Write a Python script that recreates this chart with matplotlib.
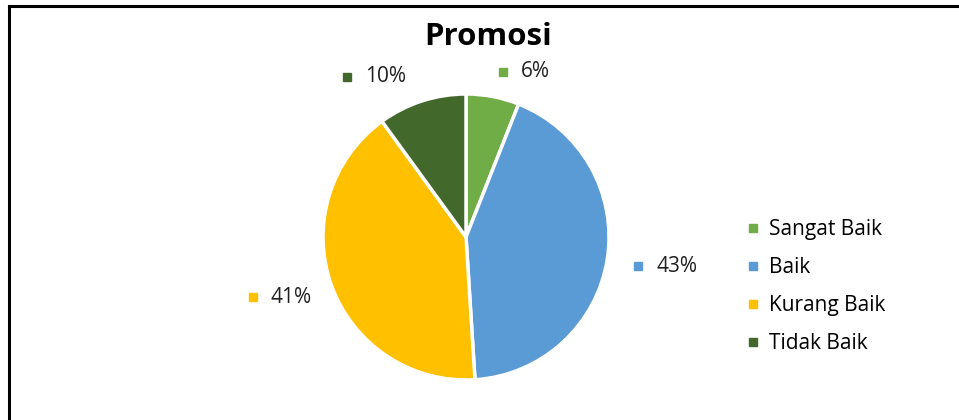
import matplotlib.pyplot as plt
from matplotlib.lines import Line2D

categories = ["Sangat Baik", "Baik", "Kurang Baik", "Tidak Baik"]
values = [6, 43, 41, 10]
colors = ["#70AD47", "#5B9BD5", "#FFC000", "#43682B"]

plt.rcParams['font.family'] = ['Open Sans', 'DejaVu Sans']

W, H = 959, 420
fig = plt.figure(figsize=(W / 100, H / 100), dpi=100)

# pie axes placed in pixels: centre (466, 237), radius 143
cx, cy, r = 466, 237, 143
ax = fig.add_axes([(cx - r) / W, (H - cy - r) / H, 2 * r / W, 2 * r / H])
wedges, _ = ax.pie(values, colors=colors, startangle=90, counterclock=False,
                   radius=1, wedgeprops=dict(edgecolor="white", linewidth=2.5))
ax.set_xlim(-1, 1)
ax.set_ylim(-1, 1)
ax.set_aspect("auto")
ax.axis("off")

# data labels (Excel style: square key + percent)
label_pos = [(0.259, 1.154), (1.203, -0.203), (-1.490, -0.420), (-0.832, 1.119)]
for v, c, (lx, ly) in zip(values, colors, label_pos):
    ax.plot(lx, ly, marker="s", markersize=5.5, color=c, clip_on=False, linestyle="none")
    ax.annotate(f"{v}%", (lx, ly), xytext=(13, 0), textcoords="offset points",
                fontsize=15, va="center", ha="left", color="#202020",
                annotation_clip=False)

fig.text(488 / W, 1 - 37 / H, "Promosi", fontsize=22.5, fontweight="bold",
         ha="center", va="center", color="black")

handles = [Line2D([], [], marker="s", linestyle="none", markersize=5.5, color=c) for c in colors]
fig.legend(handles, categories, loc="upper left", bbox_to_anchor=(744 / W, 1 - 219 / H),
           frameon=False, fontsize=15, handletextpad=0.3, labelspacing=0.82,
           handlelength=0.9, borderpad=0, borderaxespad=0)

# frame lines along top and left (chart area border, cropped)
fig.add_artist(Line2D([9 / W, 1], [1 - 6 / H, 1 - 6 / H], color="black", linewidth=2.2))
fig.add_artist(Line2D([9 / W, 9 / W], [0, 1 - 6 / H], color="black", linewidth=2.2))

fig.savefig("out.png", dpi=100)
